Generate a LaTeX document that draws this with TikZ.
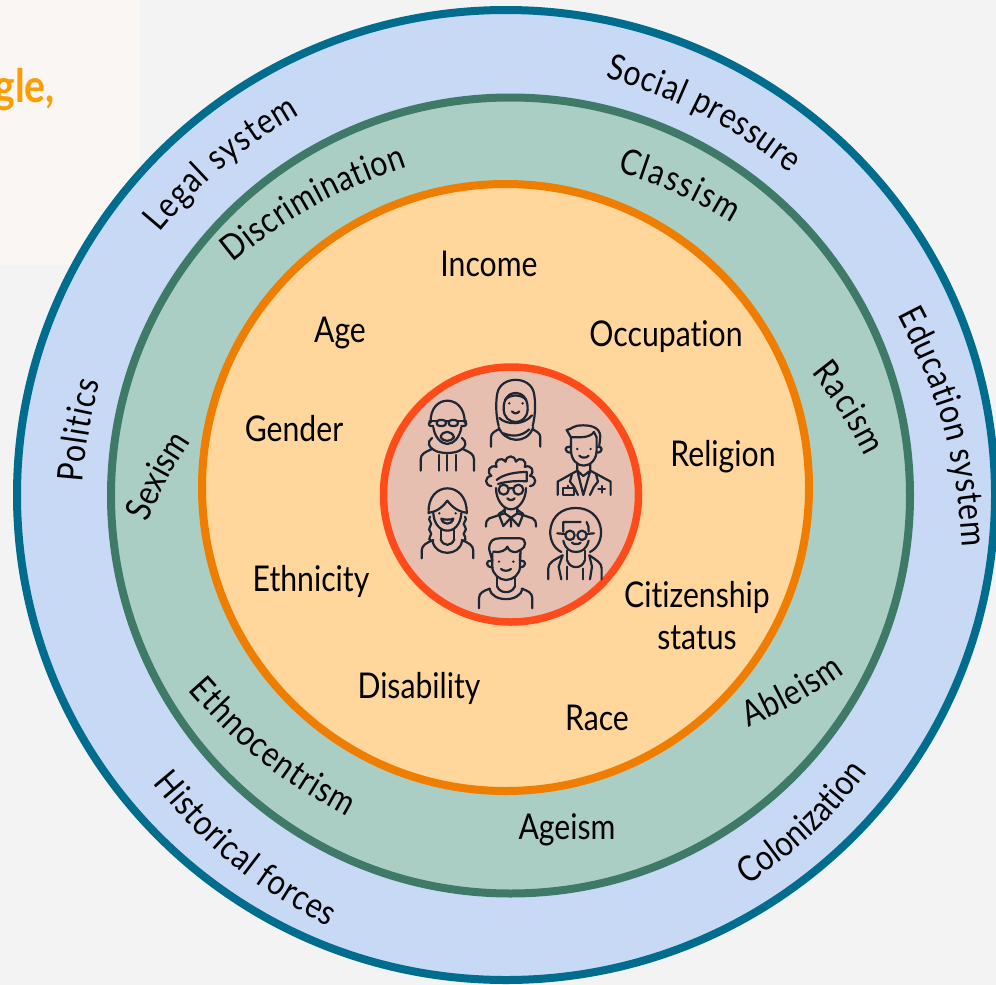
\documentclass[tikz,border=0pt]{standalone}
\usepackage{fontspec}
\setmainfont{Lato}[FakeStretch=0.85,Ligatures=NoCommon]
\usetikzlibrary{decorations.text}
\definecolor{pagegrey}{HTML}{F3F3F3}
\definecolor{panelcream}{HTML}{FAF6F3}
\definecolor{titleorange}{HTML}{FF9C00}
\definecolor{bluefill}{HTML}{C7D9F5}
\definecolor{bluering}{HTML}{006C8E}
\definecolor{greenfill}{HTML}{AACEC3}
\definecolor{greenring}{HTML}{3F7A68}
\definecolor{orangefill}{HTML}{FFD69B}
\definecolor{orangering}{HTML}{EF7D00}
\definecolor{redfill}{HTML}{E6BFB0}
\definecolor{redring}{HTML}{FF4B1A}
\definecolor{icondark}{HTML}{1E2533}
\tikzset{
    ring/.style={line width=8pt},
    inlabel/.style={font=\fontsize{35.5}{42}\selectfont,text=black,align=center,inner sep=0pt},
    arclabel/.style={decorate,decoration={text along path,text align=fit to path,
        text={|\fontsize{35.5}{42}\selectfont\color{black}|#1}}},
    iconline/.style={draw=icondark,line width=2.2pt,line cap=round,line join=round},
    icondot/.style={fill=icondark,draw=none}
}
\begin{document}
\begin{tikzpicture}[x=1pt,y=-1pt]
    \useasboundingbox (0,0) rectangle (996,985);
    \fill[pagegrey] (0,0) rectangle (996,985);
    \fill[panelcream] (0,0) rectangle (140,265);
    \node[anchor=base east,inner sep=0pt,text=titleorange,font=\fontsize{46}{52}\selectfont\bfseries] (title) at (55,102) {gle,};
    % the four rings
    \draw[ring,draw=bluering,fill=bluefill] (506,495) ellipse (489 and 485);
    \draw[ring,draw=greenring,fill=greenfill] (510.5,495.5) ellipse (399.5 and 398);
    \draw[ring,draw=orangering,fill=orangefill] (505.5,487.5) circle (303.5);
    \draw[ring,line width=7.5pt,draw=redring,fill=redfill] (511,494.5) circle (127.5);
    % inner labels
    \node[inlabel] (income) at (489,264) {Income};
    \node[inlabel] (age) at (340,333) {Age};
    \node[inlabel] (occupation) at (666,337) {Occupation};
    \node[inlabel] (gender) at (294,429) {Gender};
    \node[inlabel] (religion) at (723,457) {Religion};
    \node[inlabel] (ethnicity) at (311,581) {Ethnicity};
    \node[inlabel] (citizenship) at (697,616) {Citizenship\\status};
    \node[inlabel] (disability) at (419,688) {Disability};
    \node[inlabel] (race) at (597,718) {Race};
    \node[inlabel] (ageism) at (567,830) {Ageism};
    % labels along the rings
    \path[arclabel={Legal system}] (160,233) to[bend left=10] (300,115);
    \path[arclabel={Social pressure}] (605,78) to[bend left=11] (790,173);
    \path[arclabel={Education system}] (897,315) to[bend left=12] (962,547);
    \path[arclabel={Politics}] (83,482) to[bend left=5] (100,382);
    \path[arclabel={Colonization}] (747,885) to[bend right=10] (867,772);
    \path[arclabel={Historical forces}] (153,783) to[bend right=11] (328,927);
    \path[arclabel={Discrimination}] (233,263) to[bend left=10] (407,167);
    \path[arclabel={Classism}] (617,172) to[bend left=7] (732,223);
    \path[arclabel={Racism}] (811,373) to[bend left=6] (865,457);
    \path[arclabel={Sexism}] (148,523) to[bend left=6] (190,443);
    \path[arclabel={Ableism}] (748,727) to[bend right=6] (845,673);
    \path[arclabel={Ethnocentrism}] (188,690) to[bend right=10] (347,817);
    % the seven people
    \begin{scope}[shift={(370,350)},x=.3333pt,y=-.3333pt,iconline]
        % bald man
        \draw (182,218) .. controls (178,130) and (286,130) .. (284,218);
        \draw (190,232) .. controls (194,262) and (214,282) .. (232,282) .. controls (250,282) and (270,262) .. (274,232);
        \draw (180,214) .. controls (172,226) and (180,230) .. (190,228) (286,214) .. controls (294,226) and (284,230) .. (274,228);
        \draw[rounded corners=3pt] (200,210) rectangle (228,228) (236,210) rectangle (264,228);
        \draw (178,213) -- (200,213) (228,214) -- (236,214) (264,213) -- (288,213);
        \draw (212,262) .. controls (216,240) and (246,240) .. (252,262) .. controls (244,276) and (220,276) .. (212,262);
        \draw (186,264) .. controls (170,276) and (176,292) .. (192,300) .. controls (210,312) and (254,312) .. (272,300) .. controls (288,292) and (292,276) .. (276,264);
        \draw (152,362) -- (152,328) .. controls (152,312) and (166,306) .. (184,298);
        \draw (312,362) -- (312,328) .. controls (312,312) and (298,306) .. (280,298);
        \draw (207,315) -- (207,362) (232,315) -- (232,362) (258,315) -- (258,362);
        % woman in headscarf
        \draw (386,228) .. controls (376,190) and (378,150) .. (382,130) .. controls (392,76) and (482,76) .. (492,130) .. controls (496,150) and (498,190) .. (488,228);
        \draw (401,178) .. controls (398,112) and (476,112) .. (473,178);
        \draw (401,178) .. controls (402,204) and (420,216) .. (437,216) .. controls (454,216) and (472,204) .. (473,178);
        \draw (405,150) .. controls (420,132) and (454,132) .. (469,150);
        \draw (388,204) .. controls (410,226) and (462,226) .. (486,196);
        \draw (386,232) .. controls (404,278) and (470,286) .. (490,232);
        \draw (400,250) .. controls (430,262) and (456,258) .. (478,238);
        \draw (363,290) -- (363,262) .. controls (363,250) and (374,244) .. (386,238);
        \draw (511,290) -- (511,262) .. controls (511,250) and (500,244) .. (488,238);
        \fill[icondot] (418,160) circle (4) (458,160) circle (4);
        \draw (426,184) .. controls (432,192) and (442,192) .. (448,184);
        % doctor
        \draw (603,262) -- (603,300) .. controls (603,330) and (622,347) .. (641,347) .. controls (660,347) and (680,330) .. (680,300) -- (680,262);
        \draw (603,262) -- (590,240) .. controls (610,236) and (606,226) .. (640,226) .. controls (670,226) and (696,236) .. (690,270) -- (688,286);
        \draw (603,262) .. controls (630,262) and (660,264) .. (672,246) -- (680,262);
        \draw (600,290) .. controls (582,288) and (582,308) .. (603,308) (682,290) .. controls (700,288) and (700,308) .. (680,308);
        \fill[icondot] (622,297) circle (4) (662,297) circle (4);
        \draw (628,317) .. controls (634,325) and (650,325) .. (656,317);
        \draw (622,342) -- (622,362) -- (563,395) -- (563,435) (661,342) -- (661,362) -- (722,395) -- (722,435);
        \draw (622,362) -- (640,435) -- (661,362) (622,362) -- (640,378) -- (661,362);
        \draw (606,372) -- (600,395) -- (612,410) -- (624,435);
        \draw (678,372) -- (684,395) -- (672,410) -- (660,435);
        \draw (578,415) rectangle (612,435) (595,415) -- (595,407);
        \draw (695,408) -- (695,428) (685,418) -- (705,418);
        % curly hair with glasses
        \foreach \a in {165,195,...,345}
            \draw ([shift={(422,393)}]\a:60) .. controls ([shift={(422,393)}]\a+6:80) and ([shift={(422,393)}]\a+24:80) .. ([shift={(422,393)}]\a+30:60);
        \draw (380,390) .. controls (400,372) and (440,366) .. (470,366);
        \draw (384,402) .. controls (410,394) and (440,392) .. (470,394) -- (470,366);
        \draw (378,414) .. controls (378,450) and (400,478) .. (423,478) .. controls (446,478) and (468,450) .. (468,414);
        \draw (401,419) circle (15) (445,419) circle (15) (416,415) -- (430,415);
        \draw (412,445) .. controls (418,452) and (428,452) .. (434,445);
        \draw (404,472) -- (404,490) -- (358,505) .. controls (350,508) and (348,516) .. (348,530);
        \draw (442,472) -- (442,490) -- (488,505) .. controls (496,508) and (498,516) .. (498,530);
        \draw (404,480) -- (386,492) -- (400,528) -- (423,503) -- (446,528) -- (460,492) -- (442,480);
        \draw (423,503) -- (423,530) (404,490) -- (423,503) -- (442,490);
        % woman with braids
        \draw (176,490) .. controls (170,390) and (294,390) .. (290,490);
        \draw (176,488) .. controls (200,486) and (220,470) .. (232,452) .. controls (245,470) and (265,486) .. (290,488);
        \draw (190,490) .. controls (192,522) and (210,542) .. (232,542) .. controls (254,542) and (272,522) .. (274,490);
        \fill[icondot] (208,490) circle (4) (257,490) circle (4);
        \draw (214,506) .. controls (224,510) and (240,510) .. (250,506) .. controls (246,526) and (218,526) .. (214,506) -- cycle;
        \draw (180,500) .. controls (170,512) and (192,518) .. (180,530) .. controls (170,542) and (192,548) .. (180,560) .. controls (174,566) and (178,572) .. (186,574);
        \draw (285,500) .. controls (296,512) and (272,518) .. (285,530) .. controls (296,542) and (272,548) .. (285,560) .. controls (290,566) and (286,572) .. (278,574);
        \draw (212,538) -- (212,568) (253,538) -- (253,568);
        \draw (155,625) -- (155,602) .. controls (155,586) and (170,578) .. (190,570);
        \draw (310,625) -- (310,602) .. controls (310,586) and (295,578) .. (275,570);
        \draw (188,574) .. controls (196,620) and (268,620) .. (276,574);
        \draw (212,568) .. controls (220,590) and (244,590) .. (253,568);
        % boy
        \draw (367,610) -- (367,650) .. controls (367,672) and (388,690) .. (408,690) .. controls (430,690) and (450,672) .. (450,650) -- (450,612);
        \draw (367,632) -- (358,600) .. controls (356,572) and (370,565) .. (390,565) -- (450,565) .. controls (470,566) and (470,592) .. (452,600) -- (450,632);
        \draw (370,605) .. controls (390,610) and (410,600) .. (412,590) .. controls (420,610) and (440,610) .. (450,600);
        \draw (364,632) .. controls (346,630) and (346,652) .. (367,652) (452,632) .. controls (470,630) and (470,652) .. (450,652);
        \fill[icondot] (387,635) circle (4) (430,635) circle (4);
        \draw (393,657) .. controls (400,664) and (416,664) .. (423,657);
        \draw (382,682) -- (382,710) (434,682) -- (434,710);
        \draw (327,775) -- (327,745) .. controls (327,728) and (342,722) .. (360,716);
        \draw (487,775) -- (487,745) .. controls (487,728) and (472,722) .. (455,716);
        \draw (358,716) .. controls (366,758) and (450,758) .. (458,716);
        \draw (382,710) .. controls (390,732) and (426,732) .. (434,710);
        % afro with glasses
        \draw (574,606) .. controls (520,580) and (530,474) .. (617,474) .. controls (704,474) and (714,580) .. (660,606);
        \draw (580,545) -- (580,516) -- (632,516) (650,516) .. controls (656,524) and (656,535) .. (656,545);
        \draw (600,556) circle (14) (636,556) circle (14) (562,550) -- (586,552) (650,552) -- (672,550);
        \draw (606,578) .. controls (612,584) and (626,584) .. (632,578);
        \draw (580,572) .. controls (586,598) and (602,606) .. (618,606) .. controls (634,606) and (650,598) .. (656,572);
        \draw (592,602) -- (592,632) (644,602) -- (644,632);
        \draw (592,632) .. controls (600,658) and (636,658) .. (644,632);
        \draw (535,688) -- (535,655) .. controls (535,638) and (552,630) .. (578,616);
        \draw (695,688) -- (695,655) .. controls (695,638) and (678,630) .. (658,616);
        \draw (578,616) -- (566,650) -- (574,688) (658,616) -- (666,650) -- (660,688);
        \draw (592,650) -- (592,688) (640,656) -- (640,688);
    \end{scope}
\end{tikzpicture}
\end{document}
